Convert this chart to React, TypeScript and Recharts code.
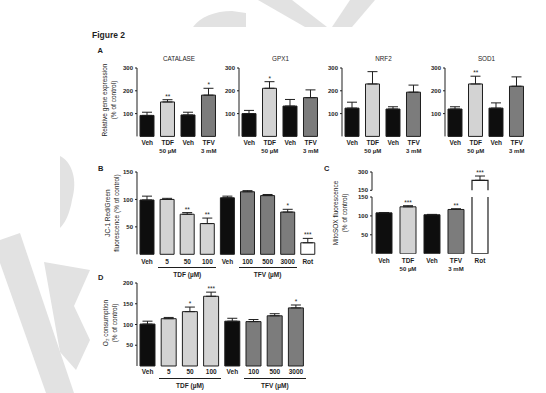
import React from "react";
import { ComposedChart, Bar, Cell, XAxis, YAxis, ErrorBar, Line, LabelList, Rectangle } from "recharts";

// ---------- DATA ----------
const aLabels = ["Veh", "TDF", "Veh", "TFV"];
const aSubLabels = ["", "50 µM", "", "3 mM"];
const aGroups = ["veh", "tdf", "veh", "tfv"];

const catalaseValues = [92, 151, 94, 181];
const catalaseErrors = [14, 10, 12, 30];
const catalaseStars = ["", "**", "", "*"];

const gpx1Values = [100, 211, 133, 170];
const gpx1Errors = [14, 29, 29, 34];
const gpx1Stars = ["", "*", "", ""];

const nrf2Values = [124, 230, 120, 194];
const nrf2Errors = [26, 54, 10, 31];
const nrf2Stars = ["", "", "", ""];

const sod1Values = [120, 230, 124, 220];
const sod1Errors = [10, 34, 23, 41];
const sod1Stars = ["", "**", "", ""];

const aTicks = [100, 200, 300];

const bLabels = ["Veh", "5", "50", "100", "Veh", "100", "500", "3000", "Rot"];
const bGroups = ["veh", "tdf", "tdf", "tdf", "veh", "tfv", "tfv", "tfv", "rot"];
const bValues = [99, 100, 73, 56, 103, 114, 107, 77, 21];
const bErrors = [7, 2, 3, 10, 3, 2, 2, 5, 8];
const bStars = ["", "", "**", "**", "", "", "", "*", "***"];
const bTicks = [50, 100, 150];

const cLabels = ["Veh", "TDF", "Veh", "TFV", "Rot"];
const cSubLabels = ["", "50 µM", "", "3 mM", ""];
const cGroups = ["veh", "tdf", "veh", "tfv", "rot"];
const cValues = [108, 124, 103, 117, 232];
const cErrors = [1, 3, 1, 2, 35];
const cStars = ["", "***", "", "**", "***"];
const cLowerTicks = [50, 100, 150];
const cUpperTicks = [150, 300];

const dLabels = ["Veh", "5", "50", "100", "Veh", "100", "500", "3000"];
const dGroups = ["veh", "tdf", "tdf", "tdf", "veh", "tfv", "tfv", "tfv"];
const dValues = [101, 114, 131, 168, 108, 107, 121, 140];
const dErrors = [7, 3, 11, 10, 7, 5, 5, 7];
const dStars = ["", "", "*", "***", "", "", "", "*"];
const dTicks = [50, 100, 150, 200];

// ---------- STYLE ----------
const FONT = "'Liberation Sans', Arial, Helvetica, sans-serif";
const INK = "#1e1e1e";
const FILLS: Record<string, string> = { veh: "#0e0e0e", tdf: "#d3d3d3", tfv: "#7c7c7c", rot: "#ffffff" };
const WM = "#e2e2e2";

type Row = {
  key: string;
  label: string;
  sub: string;
  group: string;
  value: number | null;
  err: [number, number];
  top: number | null;
  stars?: string;
};

function makeRows(labels: string[], subs: string[], groups: string[], values: (number | null)[], errors: number[], stars: string[]): Row[] {
  return labels.map((l, i) => {
    const v = values[i];
    const e = errors[i] ?? 0;
    return {
      key: "k" + i,
      label: l,
      sub: subs[i] || "",
      group: groups[i],
      value: v,
      err: [0, e],
      top: v == null ? null : v + e,
      stars: stars[i] ? stars[i] : undefined,
    };
  });
}

function openShape(mode: "none" | "noTop" | "noBottom") {
  return (p: any) => {
    const { x, y, width, height, fill, stroke, payload } = p;
    if (mode === "none" || !payload || payload.group !== "rot") {
      return <Rectangle x={x} y={y} width={width} height={height} fill={fill} stroke={stroke} strokeWidth={1} />;
    }
    const d =
      mode === "noTop"
        ? `M${x},${y} L${x},${y + height} L${x + width},${y + height} L${x + width},${y}`
        : `M${x},${y + height} L${x},${y} L${x + width},${y} L${x + width},${y + height}`;
    return (
      <g>
        <rect x={x} y={y} width={width} height={height} fill="#fff" stroke="none" />
        <path d={d} fill="none" stroke={INK} strokeWidth={1.2} />
      </g>
    );
  };
}

type PanelProps = {
  rows: Row[];
  plotLeft: number;
  plotTop: number;
  plotW: number;
  plotH: number;
  domain: [number, number];
  ticks: number[];
  barSize: number;
  labelDy?: [number, number];
  hideX?: boolean;
  overflow?: boolean;
  shapeMode?: "none" | "noTop" | "noBottom";
};

function BarPanel(props: PanelProps) {
  const { rows, plotLeft, plotTop, plotW, plotH, domain, ticks, barSize, labelDy = [7, 15], hideX = false, overflow = false, shapeMode = "none" } = props;
  const YW = 30;
  const MT = 14;
  const MR = 4;
  const MB = hideX ? 6 : 0;
  const XH = hideX ? 0 : 26;
  const width = YW + plotW + MR;
  const height = MT + plotH + XH + MB;
  const renderTick = (tp: any) => {
    const row = rows.find((r) => r.key === tp.payload.value);
    if (!row) return null;
    return (
      <g>
        <text x={tp.x} y={tp.y + labelDy[0]} textAnchor="middle" dominantBaseline="central" fontSize={6.5} fontWeight={700} fontFamily={FONT} fill={INK}>
          {row.label}
        </text>
        {row.sub ? (
          <text x={tp.x} y={tp.y + labelDy[1]} textAnchor="middle" dominantBaseline="central" fontSize={6} fontWeight={700} fontFamily={FONT} fill={INK}>
            {row.sub}
          </text>
        ) : null}
      </g>
    );
  };
  return (
    <div style={{ position: "absolute", left: plotLeft - YW, top: plotTop - MT, width, height }}>
      <ComposedChart width={width} height={height} data={rows} margin={{ top: MT, right: MR, bottom: MB, left: 0 }} barCategoryGap={0}>
        <XAxis
          dataKey="key"
          type="category"
          hide={hideX}
          height={XH}
          axisLine={false}
          tickLine={false}
          tickSize={0}
          tickMargin={0}
          interval={0}
          tick={renderTick}
        />
        <YAxis
          type="number"
          width={YW}
          domain={domain}
          ticks={ticks}
          interval={0}
          allowDataOverflow={overflow}
          tickSize={2}
          tickMargin={2}
          axisLine={{ stroke: INK, strokeWidth: 1 }}
          tickLine={{ stroke: INK, strokeWidth: 1 }}
          tick={{ fontSize: 6, fontWeight: 700, fill: INK, fontFamily: FONT }}
        />
        <Bar dataKey="value" barSize={barSize} isAnimationActive={false} shape={openShape(shapeMode)}>
          {rows.map((r, i) => (
            <Cell key={i} fill={FILLS[r.group]} stroke={INK} />
          ))}
          <ErrorBar dataKey="err" direction="y" width={5} stroke={INK} strokeWidth={1} />
        </Bar>
        <Line dataKey="top" stroke="none" dot={false} activeDot={false} isAnimationActive={false} legendType="none">
          <LabelList dataKey="stars" position="top" offset={1} style={{ fontSize: 6.5, fill: INK, fontFamily: FONT }} />
        </Line>
      </ComposedChart>
    </div>
  );
}

function Txt(p: { x: number; y: number; children: React.ReactNode; size?: number; bold?: boolean; anchor?: "left" | "center" }) {
  const { x, y, children, size = 6.5, bold = false, anchor = "center" } = p;
  return (
    <div
      style={{
        position: "absolute",
        left: x,
        top: y,
        transform: anchor === "center" ? "translate(-50%, -50%)" : "translate(0, -50%)",
        fontSize: size,
        fontWeight: bold ? 700 : 400,
        fontFamily: FONT,
        color: INK,
        whiteSpace: "nowrap",
        lineHeight: 1,
      }}
    >
      {children}
    </div>
  );
}

function YTitle(p: { cx: number; cy: number; lines: React.ReactNode[] }) {
  return (
    <div
      style={{
        position: "absolute",
        left: p.cx,
        top: p.cy,
        transform: "translate(-50%, -50%) rotate(-90deg)",
        fontSize: 6.5,
        fontFamily: FONT,
        color: INK,
        whiteSpace: "nowrap",
        textAlign: "center",
        lineHeight: "8.5px",
      }}
    >
      {p.lines.map((l, i) => (
        <div key={i}>{l}</div>
      ))}
    </div>
  );
}

function HLine(p: { x1: number; x2: number; y: number }) {
  return <div style={{ position: "absolute", left: p.x1, top: p.y, width: p.x2 - p.x1, height: 1, background: INK }} />;
}

export default function App() {
  const aPanels = [
    { title: "CATALASE", values: catalaseValues, errors: catalaseErrors, stars: catalaseStars, left: 137 },
    { title: "GPX1", values: gpx1Values, errors: gpx1Errors, stars: gpx1Stars, left: 238.5 },
    { title: "NRF2", values: nrf2Values, errors: nrf2Errors, stars: nrf2Stars, left: 341.5 },
    { title: "SOD1", values: sod1Values, errors: sod1Errors, stars: sod1Stars, left: 444.5 },
  ];
  const aTop = 68.3;
  const aH = 68.4;
  const aW = 82;

  const bRows = makeRows(bLabels, [], bGroups, bValues, bErrors, bStars);
  const bLeft = 137;
  const bBand = 20.1;
  const bTop = 171.7;
  const bH = 82.3;

  const cLowerRows = makeRows(cLabels, cSubLabels, cGroups, cValues, cErrors.map((e, i) => (cGroups[i] === "rot" ? 0 : e)), cStars.map((s, i) => (cGroups[i] === "rot" ? "" : s)));
  cLowerRows.forEach((r) => {
    if (r.group === "rot") r.top = null;
  });
  const cUpperRows = makeRows(
    cLabels,
    cSubLabels,
    cGroups,
    cValues.map((v, i) => (cGroups[i] === "rot" ? v : null)),
    cErrors,
    cStars.map((s, i) => (cGroups[i] === "rot" ? s : ""))
  );
  const cLeft = 372;
  const cW = 120;

  const dRows = makeRows(dLabels, [], dGroups, dValues, dErrors, dStars);
  const dLeft = 137;
  const dBand = 21.2;
  const dTop = 282.7;
  const dH = 83;

  return (
    <div style={{ position: "absolute", left: 0, top: 0, width: 546, height: 393, background: "#fff", overflow: "hidden" }}>
      <svg width={546} height={393} style={{ position: "absolute", left: 0, top: 0 }}>
        <path d="M193,27 C200,17 215,11 232,11 L246,13 L246,27 Z" fill={WM} />
        <path d="M258,0 L292,0 L327,27 L305,27 Z" fill={WM} />
        <path d="M350,0 L375,0 L352,27 L332,27 Z" fill={WM} />
        <path d="M60,156 C72,162 78,180 72,200 C70,212 66,222 60,228 Z" fill={WM} />
        <path d="M0,240 L20,233 L74,393 L46,393 L0,263 Z" fill={WM} />
        <path d="M44,262 L90,270 L74,306 L90,340 L76,370 L60,352 Z" fill={WM} />
      </svg>

      <Txt x={92} y={35} size={8.5} bold anchor="left">Figure 2</Txt>
      <Txt x={97.5} y={51} size={7.5} bold anchor="left">A</Txt>
      <Txt x={98} y={169} size={7.5} bold anchor="left">B</Txt>
      <Txt x={324} y={169} size={7.5} bold anchor="left">C</Txt>
      <Txt x={98} y={278} size={7.5} bold anchor="left">D</Txt>

      {/* Panel A */}
      <YTitle cx={109} cy={100} lines={["Relative gene expression", "(% of control)"]} />
      {aPanels.map((p) => (
        <React.Fragment key={p.title}>
          <Txt x={p.left + aW / 2 + 1} y={59.3} size={6.3}>{p.title}</Txt>
          <BarPanel
            rows={makeRows(aLabels, aSubLabels, aGroups, p.values, p.errors, p.stars)}
            plotLeft={p.left}
            plotTop={aTop}
            plotW={aW}
            plotH={aH}
            domain={[0, 300]}
            ticks={aTicks}
            barSize={14}
            labelDy={[5.8, 14.2]}
          />
        </React.Fragment>
      ))}

      {/* Panel B */}
      <YTitle cx={112} cy={213} lines={["JC-1 Red/Green", "fluorescence (% of control)"]} />
      <BarPanel rows={bRows} plotLeft={bLeft} plotTop={bTop} plotW={bBand * 9} plotH={bH} domain={[0, 150]} ticks={bTicks} barSize={14} labelDy={[7, 15]} />
      <HLine x1={bLeft + bBand * 1 + 1} x2={bLeft + bBand * 4 - 1} y={267} />
      <HLine x1={bLeft + bBand * 5 + 1} x2={bLeft + bBand * 8 - 1} y={267} />
      <Txt x={bLeft + bBand * 2.5} y={275} bold>TDF (µM)</Txt>
      <Txt x={bLeft + bBand * 6.5} y={275} bold>TFV (µM)</Txt>

      {/* Panel C */}
      <YTitle cx={340} cy={213} lines={["MitoSOX fluorescence", "(% of control)"]} />
      <BarPanel rows={cUpperRows} plotLeft={cLeft} plotTop={171.7} plotW={cW} plotH={18.3} domain={[150, 300]} ticks={cUpperTicks} barSize={16} hideX shapeMode="noBottom" />
      <BarPanel rows={cLowerRows} plotLeft={cLeft} plotTop={197.3} plotW={cW} plotH={56.7} domain={[0, 150]} ticks={cLowerTicks} barSize={16} labelDy={[7, 15]} overflow shapeMode="noTop" />

      {/* Panel D */}
      <YTitle cx={110} cy={323} lines={["O₂ consumption", "(% of control)"]} />
      <BarPanel rows={dRows} plotLeft={dLeft} plotTop={dTop} plotW={dBand * 8} plotH={dH} domain={[0, 200]} ticks={dTicks} barSize={15} labelDy={[6, 14]} />
      <HLine x1={dLeft + dBand * 1 + 1} x2={dLeft + dBand * 4 - 1} y={377.5} />
      <HLine x1={dLeft + dBand * 5 + 1} x2={dLeft + dBand * 8 - 1} y={377.5} />
      <Txt x={dLeft + dBand * 2.5} y={385.5} bold>TDF (µM)</Txt>
      <Txt x={dLeft + dBand * 6.5} y={385.5} bold>TFV (µM)</Txt>
    </div>
  );
}
